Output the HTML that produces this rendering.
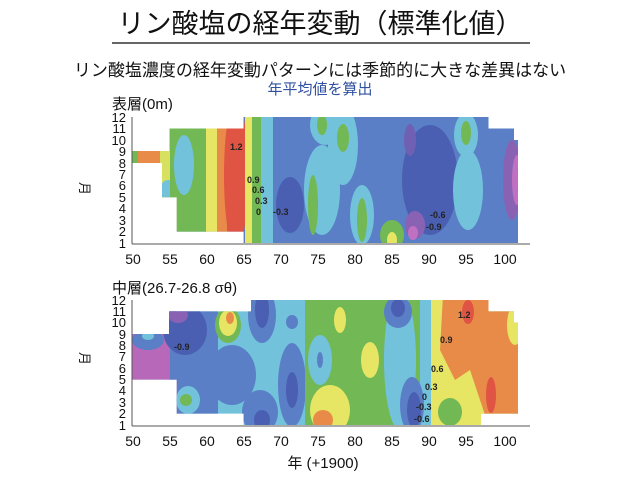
<!DOCTYPE html>
<html><head><meta charset="utf-8"><style>
body{margin:0;background:#fff;}
svg{display:block;font-family:"Liberation Sans","Noto Sans CJK JP",sans-serif;}
</style></head><body>
<svg width="640" height="481" viewBox="0 0 640 481">
<rect width="640" height="481" fill="#fff"/>
<text x="320" y="33" font-size="27" text-anchor="middle" fill="#111">リン酸塩の経年変動（標準化値）</text>
<line x1="112" y1="43" x2="530" y2="43" stroke="#333" stroke-width="1.5"/>
<text x="320" y="76" font-size="17" text-anchor="middle" fill="#111">リン酸塩濃度の経年変動パターンには季節的に大きな差異はない</text>
<text x="320" y="94" font-size="15" text-anchor="middle" fill="#3050a0">年平均値を算出</text>
<text x="112" y="109" font-size="15" fill="#111">表層(0m)</text>
<text x="112" y="293" font-size="15" fill="#111">中層(26.7-26.8 σθ)</text>
<text x="86" y="188" font-size="13" fill="#111" transform="rotate(90 86 182)">月</text>
<text x="86" y="358" font-size="13" fill="#111" transform="rotate(90 86 352)">月</text>
<defs>
<clipPath id="ct"><polygon points="132,151 169,151 169,128.5 243.6,128.5 243.6,117 488.5,117 488.5,128.5 514,128.5 514,140 518,140 518,243 243.6,243 243.6,231.6 176.8,231.6 176.8,197.2 162,197.2 162,163 132,163"/></clipPath>
<clipPath id="cb"><polygon points="132,334 169,334 169,311.4 251,311.4 251,300 488.5,300 488.5,311.4 514,311.4 514,322.8 518,322.8 518,413.6 481,413.6 481,425 243.6,425 243.6,413.6 176.8,413.6 176.8,379.6 132,379.6"/></clipPath>
</defs>
<!-- TOP -->
<g clip-path="url(#ct)">
<rect x="130" y="110" width="400" height="140" fill="#5a7fc6"/>
<rect x="130" y="110" width="8" height="140" fill="#72b854"/>
<rect x="138" y="110" width="32" height="140" fill="#e88a48"/>
<rect x="160" y="110" width="18" height="140" fill="#d8e060"/>
<ellipse cx="168" cy="190" rx="8" ry="10" fill="#72c2dc"/>
<rect x="170" y="110" width="37" height="140" fill="#72b854"/>
<ellipse cx="184" cy="165" rx="10" ry="30" fill="#72c2dc"/>
<rect x="206" y="110" width="12" height="140" fill="#e6e664"/>
<rect x="217" y="110" width="10" height="140" fill="#e88a48"/>
<ellipse cx="236" cy="175" rx="12" ry="75" fill="#e05443"/>
<rect x="245" y="110" width="7" height="140" fill="#e6e664"/>
<rect x="252" y="110" width="9" height="140" fill="#72b854"/>
<rect x="261" y="110" width="12" height="140" fill="#72c2dc"/>
<ellipse cx="290" cy="205" rx="14" ry="28" fill="#4a5fb2"/>
<ellipse cx="322" cy="190" rx="18" ry="45" fill="#72c2dc"/>
<ellipse cx="313" cy="205" rx="5" ry="30" fill="#72b854"/>
<ellipse cx="325" cy="125" rx="15" ry="20" fill="#72c2dc"/>
<ellipse cx="322" cy="125" rx="5" ry="10" fill="#72b854"/>
<ellipse cx="343" cy="145" rx="15" ry="40" fill="#72c2dc"/>
<ellipse cx="343" cy="138" rx="6" ry="14" fill="#72b854"/>
<ellipse cx="362" cy="215" rx="12" ry="30" fill="#72c2dc"/>
<ellipse cx="362" cy="220" rx="5" ry="22" fill="#72b854"/>
<ellipse cx="392" cy="235" rx="12" ry="15" fill="#72b854"/>
<ellipse cx="392" cy="240" rx="5" ry="8" fill="#e6e664"/>
<ellipse cx="430" cy="180" rx="28" ry="55" fill="#4a5fb2"/>
<ellipse cx="415" cy="225" rx="10" ry="14" fill="#8a62b4"/>
<ellipse cx="413" cy="233" rx="5" ry="7" fill="#c070c0"/>
<ellipse cx="410" cy="140" rx="6" ry="16" fill="#7060b4"/>
<ellipse cx="468" cy="190" rx="15" ry="40" fill="#72c2dc"/>
<ellipse cx="466" cy="135" rx="12" ry="22" fill="#72c2dc"/>
<ellipse cx="466" cy="133" rx="5" ry="12" fill="#72b854"/>
<ellipse cx="512" cy="180" rx="9" ry="40" fill="#8a62b4"/>
<ellipse cx="517" cy="180" rx="5" ry="25" fill="#c070c0"/>
<g font-size="9" font-weight="bold" fill="#222">
<text x="230" y="150">1.2</text>
<text x="247" y="183">0.9</text>
<text x="252" y="193">0.6</text>
<text x="255" y="204">0.3</text>
<text x="256" y="215">0</text>
<text x="273" y="215">-0.3</text>
<text x="430" y="218">-0.6</text>
<text x="426" y="230">-0.9</text>
</g>
</g>
<!-- BOTTOM -->
<g clip-path="url(#cb)">
<rect x="130" y="295" width="400" height="140" fill="#72c2dc"/>
<rect x="130" y="295" width="47" height="140" fill="#b868b8"/>
<ellipse cx="148" cy="340" rx="16" ry="10" fill="#5a7fc6"/>
<ellipse cx="148" cy="336" rx="6" ry="4" fill="#72c2dc"/>
<rect x="170" y="295" width="48" height="140" fill="#5a7fc6"/>
<ellipse cx="185" cy="330" rx="22" ry="25" fill="#4a5fb2"/>
<ellipse cx="178" cy="315" rx="10" ry="8" fill="#8a62b4"/>
<ellipse cx="188" cy="400" rx="12" ry="14" fill="#72c2dc"/>
<ellipse cx="186" cy="400" rx="6" ry="6" fill="#72b854"/>
<ellipse cx="228" cy="325" rx="13" ry="18" fill="#72b854"/>
<ellipse cx="228" cy="323" rx="9" ry="13" fill="#e6e664"/>
<ellipse cx="230" cy="318" rx="4" ry="6" fill="#e88a48"/>
<ellipse cx="262" cy="315" rx="14" ry="28" fill="#5a7fc6"/>
<ellipse cx="262" cy="310" rx="7" ry="18" fill="#4a5fb2"/>
<ellipse cx="232" cy="375" rx="24" ry="30" fill="#5a7fc6"/>
<ellipse cx="260" cy="412" rx="18" ry="22" fill="#5a7fc6"/>
<ellipse cx="262" cy="420" rx="8" ry="10" fill="#4a5fb2"/>
<ellipse cx="292" cy="385" rx="14" ry="42" fill="#5a7fc6"/>
<ellipse cx="292" cy="390" rx="6" ry="18" fill="#4a5fb2"/>
<ellipse cx="292" cy="322" rx="6" ry="7" fill="#5a7fc6"/>
<rect x="305" y="295" width="115" height="140" fill="#72b854"/>
<ellipse cx="320" cy="360" rx="12" ry="25" fill="#72c2dc"/>
<ellipse cx="320" cy="360" rx="3" ry="8" fill="#5a7fc6"/>
<ellipse cx="330" cy="410" rx="20" ry="25" fill="#e6e664"/>
<ellipse cx="323" cy="420" rx="10" ry="10" fill="#e88a48"/>
<ellipse cx="340" cy="320" rx="6" ry="13" fill="#e6e664"/>
<ellipse cx="370" cy="360" rx="9" ry="18" fill="#e6e664"/>
<ellipse cx="400" cy="360" rx="16" ry="70" fill="#72c2dc"/>
<ellipse cx="398" cy="312" rx="14" ry="16" fill="#5a7fc6"/>
<ellipse cx="398" cy="308" rx="7" ry="9" fill="#4a5fb2"/>
<ellipse cx="412" cy="405" rx="12" ry="28" fill="#5a7fc6"/>
<ellipse cx="414" cy="410" rx="7" ry="18" fill="#4a5fb2"/>
<rect x="431" y="295" width="100" height="140" fill="#e6e664"/>
<path d="M443,295 L520,295 L520,415 L485,415 L470,370 L455,380 L440,350 Z" fill="#e88a48"/>
<ellipse cx="468" cy="312" rx="6" ry="12" fill="#e05443"/>
<ellipse cx="491" cy="395" rx="5" ry="18" fill="#e05443"/>
<ellipse cx="515" cy="325" rx="8" ry="20" fill="#e6e664"/>
<ellipse cx="450" cy="412" rx="12" ry="14" fill="#72b854"/>
<g font-size="9" font-weight="bold" fill="#222">
<text x="174" y="350">-0.9</text>
<text x="458" y="318">1.2</text>
<text x="440" y="343">0.9</text>
<text x="431" y="372">0.6</text>
<text x="425" y="390">0.3</text>
<text x="422" y="400">0</text>
<text x="416" y="410">-0.3</text>
<text x="414" y="422">-0.6</text>
</g>
</g>
<!-- axes -->
<g stroke="#555" stroke-width="1" fill="none">
<line x1="132" y1="117" x2="132" y2="244"/><line x1="132" y1="244" x2="530" y2="244"/>
<line x1="132" y1="300" x2="132" y2="426"/><line x1="132" y1="426" x2="530" y2="426"/>
</g>
<g font-size="13" fill="#111" text-anchor="end">
<text x="126" y="122">12</text><text x="126" y="133">11</text><text x="126" y="145">10</text><text x="126" y="156">9</text><text x="126" y="168">8</text><text x="126" y="179">7</text><text x="126" y="190">6</text><text x="126" y="202">5</text><text x="126" y="213">4</text><text x="126" y="225">3</text><text x="126" y="236">2</text><text x="126" y="248">1</text>
<text x="126" y="305">12</text><text x="126" y="316">11</text><text x="126" y="327">10</text><text x="126" y="339">9</text><text x="126" y="350">8</text><text x="126" y="361">7</text><text x="126" y="373">6</text><text x="126" y="384">5</text><text x="126" y="395">4</text><text x="126" y="407">3</text><text x="126" y="418">2</text><text x="126" y="430">1</text>
</g>
<g font-size="14" fill="#111" text-anchor="middle">
<text x="133" y="264">50</text><text x="170" y="264">55</text><text x="207" y="264">60</text><text x="244" y="264">65</text><text x="281" y="264">70</text><text x="318" y="264">75</text><text x="355" y="264">80</text><text x="392" y="264">85</text><text x="429" y="264">90</text><text x="466" y="264">95</text><text x="505" y="264">100</text>
<text x="133" y="446">50</text><text x="170" y="446">55</text><text x="207" y="446">60</text><text x="244" y="446">65</text><text x="281" y="446">70</text><text x="318" y="446">75</text><text x="355" y="446">80</text><text x="392" y="446">85</text><text x="429" y="446">90</text><text x="466" y="446">95</text><text x="505" y="446">100</text>
<text x="323" y="468" font-size="15">年 (+1900)</text>
</g>
</svg>
</body></html>
